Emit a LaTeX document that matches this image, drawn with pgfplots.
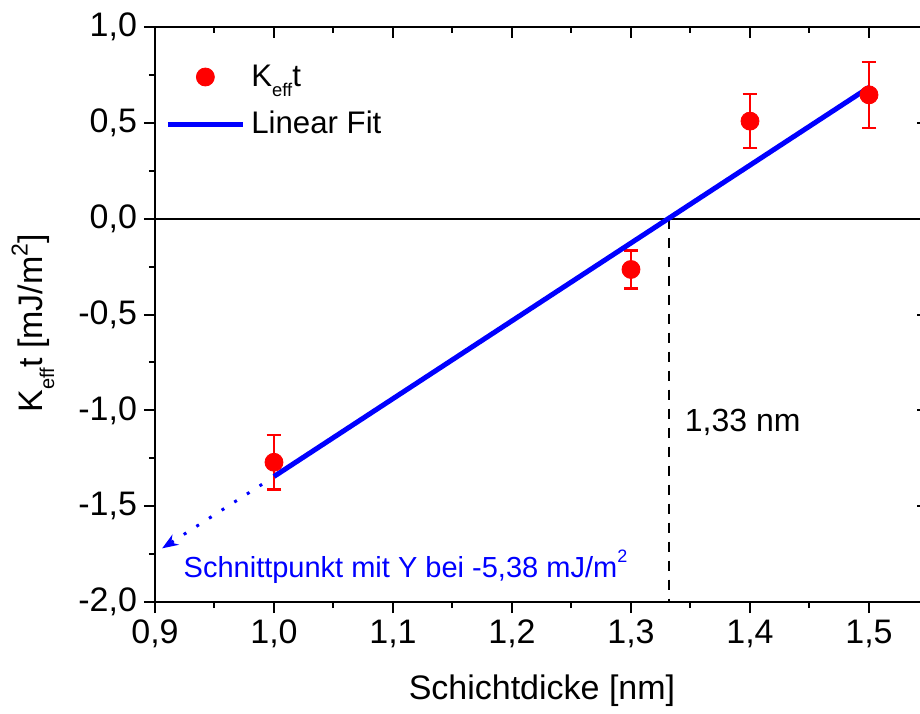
\documentclass[border=0pt]{standalone}
\usepackage{fontspec}
\setmainfont{Liberation Sans}
\usepackage{pgfplots}
\pgfplotsset{compat=1.18}
\usetikzlibrary{arrows.meta}
\newcommand\lsub[2]{\raisebox{-0.34em}{\fontsize{#1}{#1}\selectfont #2}}
\newcommand\lsup[3]{\raisebox{#3}{\fontsize{#1}{#1}\selectfont #2}}
\pgfplotsset{
 lineleg/.style={legend image code/.code={\draw[##1] (0pt,0pt) -- (37.5pt,0pt);}},
 markleg/.style={legend image code/.code={\draw[mark repeat=2,mark phase=2,##1] plot coordinates {(0pt,0pt) (18.75pt,0pt) (37.5pt,0pt)};}},
 common/.style={
  scale only axis, width=386.75pt, height=287.5pt, at={(0pt,0pt)}, anchor=south west,
  xmin=0.9, xmax=1.55, ymin=-2, ymax=1,
  xtick={0.9,1,1.1,1.2,1.3,1.4,1.5}, ytick={-2,-1.5,-1,-0.5,0,0.5,1},
  minor x tick num=1, minor y tick num=1,
  major tick length=5.5pt, minor tick length=3pt,
  tick style={line width=1pt, black},
  axis line style={line width=1pt},
 }
}
\begin{document}
\begin{tikzpicture}
\useasboundingbox (-77.5pt,-55.5pt) rectangle (382.5pt,301pt);
\begin{axis}[common, axis x line*=bottom, axis y line*=left, tick align=outside,
 /pgf/number format/.cd, use comma, fixed, fixed zerofill, precision=1, assume math mode=true, /pgfplots/.cd,
 tick label style={font=\fontsize{17}{20}\selectfont},
 xlabel={Schichtdicke [nm]},
 ylabel={K\lsub{10}{eff}t [mJ/m\lsup{11.5}{2}{7.5pt}]},
 label style={font=\fontsize{17}{20}\selectfont},
 xlabel style={at={(axis description cs:0.5003,-0.1548)}, anchor=center},
 ylabel style={at={(axis description cs:-0.1577,0.485)}, anchor=center},
 legend style={at={(axis description cs:0.0129,0.942)}, anchor=north west, draw=none, fill=none,
   inner sep=0pt, row sep=7pt, column sep=1pt, font=\fontsize{15.6}{18}\selectfont},
 legend cell align=left,
]
\addplot[forget plot, black, line width=1pt] coordinates {(0.9,0) (1.55,0)};
\addplot[forget plot, black, line width=1.4pt, dash pattern=on 5pt off 4.5pt] coordinates {(1.332,0) (1.332,-2)};
\addplot[only marks, mark=*, mark size=4.5pt, red, markleg,
  error bars/.cd, y dir=both, y explicit,
  error bar style={red, line width=1.2pt},
  error mark options={rotate=90, red, mark size=3.7pt, line width=1.2pt}]
 coordinates {(1.0,-1.271) +- (0,0.142) (1.3,-0.265) +- (0,0.099) (1.4,0.509) +- (0,0.141) (1.5,0.646) +- (0,0.172)};
\addlegendentry{K\lsub{9.2}{eff}t}
\addplot[blue, line width=2.5pt, lineleg]
 coordinates {(1.0,-1.345) (1.5,0.685)};
\addlegendentry{Linear Fit}
\addplot[forget plot, blue, line width=1.5pt, dash pattern=on 1.5pt off 6pt, -{Stealth[length=8pt, width=6pt]}]
 coordinates {(0.99,-1.386) (0.906,-1.72)};
\node[anchor=base west, inner sep=0pt, font=\fontsize{16}{19}\selectfont] at (axis cs:1.345,-1.112) {1,33 nm};
\node[anchor=base west, inner sep=0pt, text=blue, font=\fontsize{14.5}{17}\selectfont] at (axis cs:0.9238,-1.872) {Schnittpunkt mit Y bei -5,38 mJ/m\lsup{9}{2}{0.5em}};
\end{axis}
\begin{axis}[common, axis x line*=top, axis y line*=right, tick align=inside, xticklabels={}, yticklabels={}]
\end{axis}
\end{tikzpicture}
\end{document}
